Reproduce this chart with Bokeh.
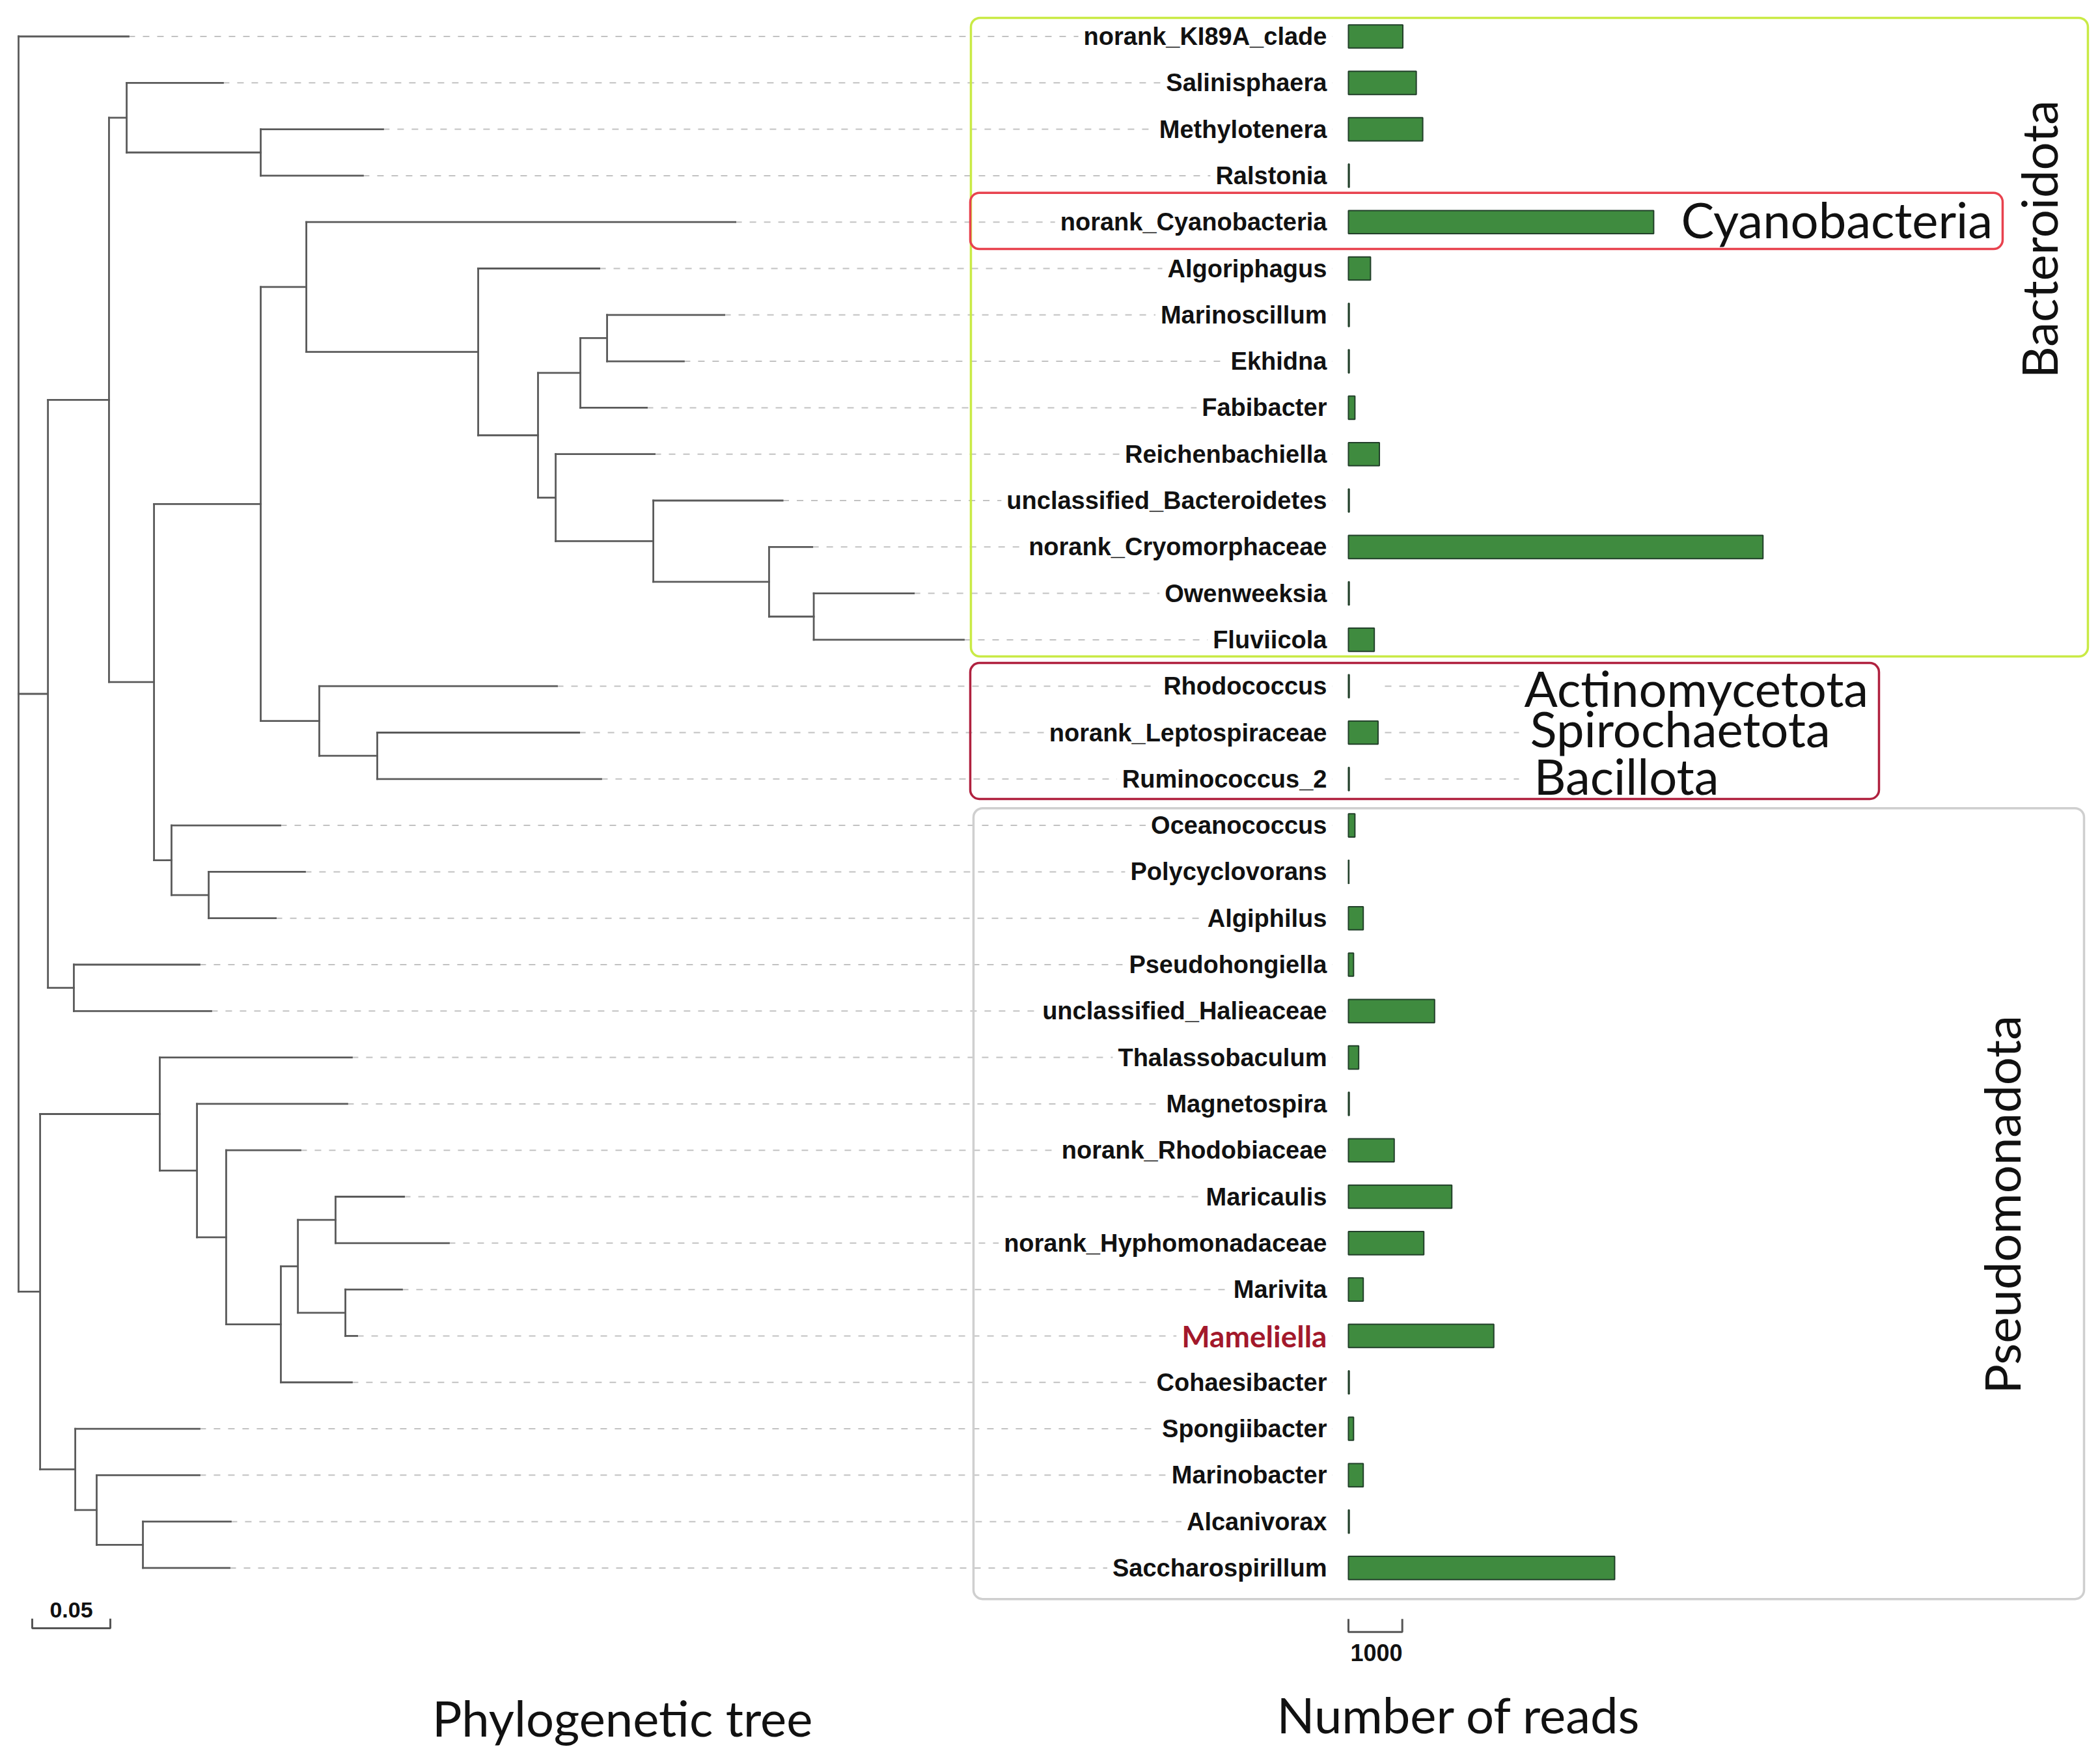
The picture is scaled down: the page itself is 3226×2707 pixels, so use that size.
import math
from bokeh.plotting import figure
from bokeh.models import Range1d, BoxAnnotation, ColumnDataSource
from bokeh.core.properties import value
from bokeh.embed import file_html
from bokeh.resources import INLINE

# ---------------- data ----------------
leaf_labels = [
    "norank_KI89A_clade", "Salinisphaera", "Methylotenera", "Ralstonia",
    "norank_Cyanobacteria", "Algoriphagus", "Marinoscillum", "Ekhidna",
    "Fabibacter", "Reichenbachiella", "unclassified_Bacteroidetes",
    "norank_Cryomorphaceae", "Owenweeksia", "Fluviicola", "Rhodococcus",
    "norank_Leptospiraceae", "Ruminococcus_2", "Oceanococcus",
    "Polycyclovorans", "Algiphilus", "Pseudohongiella",
    "unclassified_Halieaceae", "Thalassobaculum", "Magnetospira",
    "norank_Rhodobiaceae", "Maricaulis", "norank_Hyphomonadaceae", "Marivita",
    "Mameliella", "Cohaesibacter", "Spongiibacter", "Marinobacter",
    "Alcanivorax", "Saccharospirillum",
]
reads = [1010, 1260, 1380, 15, 5670, 410, 15, 15, 120, 575, 15, 7700, 15, 480,
         15, 550, 15, 120, 8, 275, 95, 1600, 190, 15, 850, 1920, 1400, 275,
         2700, 15, 95, 275, 15, 4945]

# tree: node, parent, cumulative depth from root (substitutions/site)
node_names = [
    "root", "norank_KI89A_clade", "nB", "nA", "nS", "Salinisphaera", "nMR",
    "Methylotenera", "Ralstonia", "nE", "nF", "nH", "norank_Cyanobacteria",
    "nJ", "Algoriphagus", "nK", "nL", "nN", "Marinoscillum", "Ekhidna",
    "Fabibacter", "nM", "Reichenbachiella", "nO", "unclassified_Bacteroidetes",
    "nP", "norank_Cryomorphaceae", "nQ", "Owenweeksia", "Fluviicola",
    "nI", "Rhodococcus", "nR", "norank_Leptospiraceae", "Ruminococcus_2",
    "nG", "Oceanococcus", "nT", "Polycyclovorans", "Algiphilus",
    "nC", "Pseudohongiella", "unclassified_Halieaceae",
    "nD", "nU", "Thalassobaculum", "nW", "Magnetospira", "nX",
    "norank_Rhodobiaceae", "nY", "nZ", "n25", "Maricaulis",
    "norank_Hyphomonadaceae", "n27", "Marivita", "Mameliella", "Cohaesibacter",
    "nV", "Spongiibacter", "nAA", "Marinobacter", "nAB", "Alcanivorax",
    "Saccharospirillum",
]
node_parents = [
    None, "root", "root", "nB", "nA", "nS", "nS",
    "nMR", "nMR", "nA", "nE", "nF", "nH",
    "nH", "nJ", "nJ", "nK", "nL", "nN", "nN",
    "nL", "nK", "nM", "nM", "nO",
    "nO", "nP", "nP", "nQ", "nQ",
    "nF", "nI", "nI", "nR", "nR",
    "nE", "nG", "nG", "nT", "nT",
    "nB", "nC", "nC",
    "root", "nD", "nU", "nU", "nW", "nW",
    "nX", "nX", "nY", "nZ", "n25",
    "n25", "nZ", "n27", "n27", "nY",
    "nD", "nV", "nV", "nAA", "nAA", "nAB",
    "nAB",
]
node_depths = [
    0.0, 0.0704, 0.0188, 0.0579, 0.0692, 0.1308, 0.1550,
    0.2333, 0.2204, 0.0867, 0.1550, 0.1842, 0.4588,
    0.2942, 0.3717, 0.3325, 0.3596, 0.3767, 0.4517, 0.4258,
    0.4021, 0.3438, 0.4071, 0.4063, 0.4890,
    0.4804, 0.5080, 0.5090, 0.5730, 0.6050,
    0.1925, 0.3446, 0.2296, 0.3588, 0.3729,
    0.0979, 0.1675, 0.1217, 0.1833, 0.1646,
    0.0354, 0.1158, 0.1233,
    0.0138, 0.0904, 0.2133, 0.1142, 0.2104, 0.1329,
    0.1804, 0.1679, 0.1788, 0.2029, 0.2467,
    0.2754, 0.2092, 0.2454, 0.2167, 0.2133,
    0.0363, 0.1158, 0.0500, 0.1158, 0.0796, 0.1358,
    0.1350,
]

highlight_leaf = "Mameliella"
tree_scale_value = 0.05
reads_scale_value = 1000

group_names = ["Bacteroidota", "Cyanobacteria", "Actinomycetota", "Spirochaetota",
               "Bacillota", "Pseudomonadota"]

# ---------------- layout constants ----------------
W, H = 3210, 2690
TREE_RANGE = (-0.011667, 1.325833)
READS_RANGE = (-25042.0, 13773.0)
ROW_RANGE = (36.949, -0.7784)
LABEL_X = 0.8408           # right edge of leaf labels (tree units)

p = figure(width=W, height=H, output_backend="svg", toolbar_location=None,
           x_range=Range1d(*TREE_RANGE), y_range=Range1d(*ROW_RANGE),
           x_axis_location=None, y_axis_location=None, min_border=0)
p.extra_x_ranges = {"reads": Range1d(*READS_RANGE)}
p.grid.visible = False
p.outline_line_color = None
p.background_fill_color = "white"
p.border_fill_color = "white"

# ---------------- tree layout ----------------
depth = dict(zip(node_names, node_depths))
parent = dict(zip(node_names, node_parents))
children = {n: [] for n in node_names}
for n, par in zip(node_names, node_parents):
    if par is not None:
        children[par].append(n)
leaf_row = {name: i for i, name in enumerate(leaf_labels)}
ypos = {}
span = {}

def place(n):
    if n in leaf_row:
        ypos[n] = float(leaf_row[n])
        return ypos[n]
    ys = [place(c) for c in children[n]]
    span[n] = (min(ys), max(ys))
    ypos[n] = (min(ys) + max(ys)) / 2.0
    return ypos[n]

place("root")

hx0, hx1, hy = [], [], []
for n in node_names:
    if parent[n] is not None:
        hx0.append(depth[parent[n]]); hx1.append(depth[n]); hy.append(ypos[n])
vx, vy0, vy1 = [], [], []
for n, (a, b) in span.items():
    vx.append(depth[n]); vy0.append(a); vy1.append(b)

tree_color = "#5a5a5a"
# leader dashes
lead_x0 = [depth[l] for l in leaf_labels]
lead_y = list(range(len(leaf_labels)))
p.segment(x0=lead_x0, y0=lead_y, x1=[LABEL_X] * len(leaf_labels), y1=lead_y,
          line_color="#c2c2c2", line_width=2, line_dash="10 12")
p.segment(x0=hx0, y0=hy, x1=hx1, y1=hy, line_color=tree_color, line_width=2.8,
          line_cap="square")
p.segment(x0=vx, y0=vy0, x1=vx, y1=vy1, line_color=tree_color, line_width=2.8,
          line_cap="square")

# ---------------- leaf labels ----------------
normal_idx = [i for i, l in enumerate(leaf_labels) if l != highlight_leaf]
hl_idx = [i for i, l in enumerate(leaf_labels) if l == highlight_leaf]
p.text(x=[LABEL_X] * len(normal_idx), y=normal_idx,
       text=[leaf_labels[i] for i in normal_idx],
       text_align="right", text_baseline="middle",
       text_font=value("Liberation Sans"), text_font_style="bold",
       text_font_size="38px", text_color="#111111",
       background_fill_color="white", padding=8)
p.text(x=[LABEL_X] * len(hl_idx), y=hl_idx,
       text=[leaf_labels[i] for i in hl_idx],
       text_align="right", text_baseline="middle",
       text_font=value("Lato"), text_font_style="bold",
       text_font_size="46px", text_color="#a3182b",
       background_fill_color="white", padding=8)

# ---------------- bars ----------------
src = ColumnDataSource(dict(y=list(range(len(reads))), r=reads))
p.hbar(y="y", left=0, right="r", height=0.5, source=src, x_range_name="reads",
       fill_color="#3f8b3f", line_color="#22402a", line_width=2)

# leaders to the small phyla labels
small_rows = [14, 15, 16]
p.segment(x0=[677] * 3, y0=small_rows, x1=[3168] * 3, y1=small_rows,
          x_range_name="reads", line_color="#c2c2c2", line_width=2,
          line_dash="10 12")

# ---------------- group boxes ----------------
box_top = [-0.40, 3.37, 13.50, 16.63]
box_bottom = [13.36, 4.58, 16.43, 33.67]
box_left = [-7013, -7025, -7025, -6965]
box_right = [13736, 12152, 9855, 13664]
box_color = ["#c9ea45", "#e8424e", "#b0213f", "#cfcfcf"]
for t, b, l, r, c in zip(box_top, box_bottom, box_left, box_right, box_color):
    p.add_layout(BoxAnnotation(top=t, bottom=b, left=l, right=r,
                               x_range_name="reads", fill_color=None,
                               fill_alpha=0, line_color=c, line_alpha=1.0,
                               line_width=3.5, border_radius=14))

# ---------------- group labels ----------------
grp_x = [12818, 6179, 3265, 3374, 3446, 12127]
grp_y = [4.37, 3.93, 14.03, 14.90, 15.93, 25.17]
grp_angle = [math.pi / 2, 0, 0, 0, 0, math.pi / 2]
grp_align = ["center", "left", "left", "left", "left", "center"]
p.text(x=grp_x, y=grp_y, text=group_names, angle=grp_angle,
       text_align=grp_align, text_baseline="middle",
       text_font=value("Lato"), text_font_size="76px", text_color="#111111",
       x_range_name="reads")

# ---------------- scale bars ----------------
sb_x0 = 0.00875
sb_x1 = sb_x0 + tree_scale_value
p.multi_line(xs=[[sb_x0, sb_x0, sb_x1, sb_x1]], ys=[[34.09, 34.30, 34.30, 34.09]],
             line_color="#555555", line_width=3)
p.text(x=[(sb_x0 + sb_x1) / 2], y=[33.91], text=[f"{tree_scale_value:.2f}"],
       text_align="center", text_baseline="middle",
       text_font=value("Liberation Sans"), text_font_style="bold",
       text_font_size="34px", text_color="#111111")

p.multi_line(xs=[[0, 0, reads_scale_value, reads_scale_value]],
             ys=[[34.10, 34.38, 34.38, 34.10]], x_range_name="reads",
             line_color="#555555", line_width=3)
p.text(x=[520], y=[34.82], text=[str(reads_scale_value)], text_align="center",
       text_baseline="middle", text_font=value("Liberation Sans"),
       text_font_style="bold", text_font_size="36px", text_color="#111111",
       x_range_name="reads")

# ---------------- panel titles ----------------
p.text(x=[0.3865], y=[36.22], text=["Phylogenetic tree"], text_align="center",
       text_baseline="middle", text_font=value("Lato"), text_font_size="76px",
       text_color="#111111")
p.text(x=[2056], y=[36.15], text=["Number of reads"], text_align="center",
       text_baseline="middle", text_font=value("Lato"), text_font_size="76px",
       text_color="#111111", x_range_name="reads")

open("out.html", "w").write(file_html(p, INLINE))
